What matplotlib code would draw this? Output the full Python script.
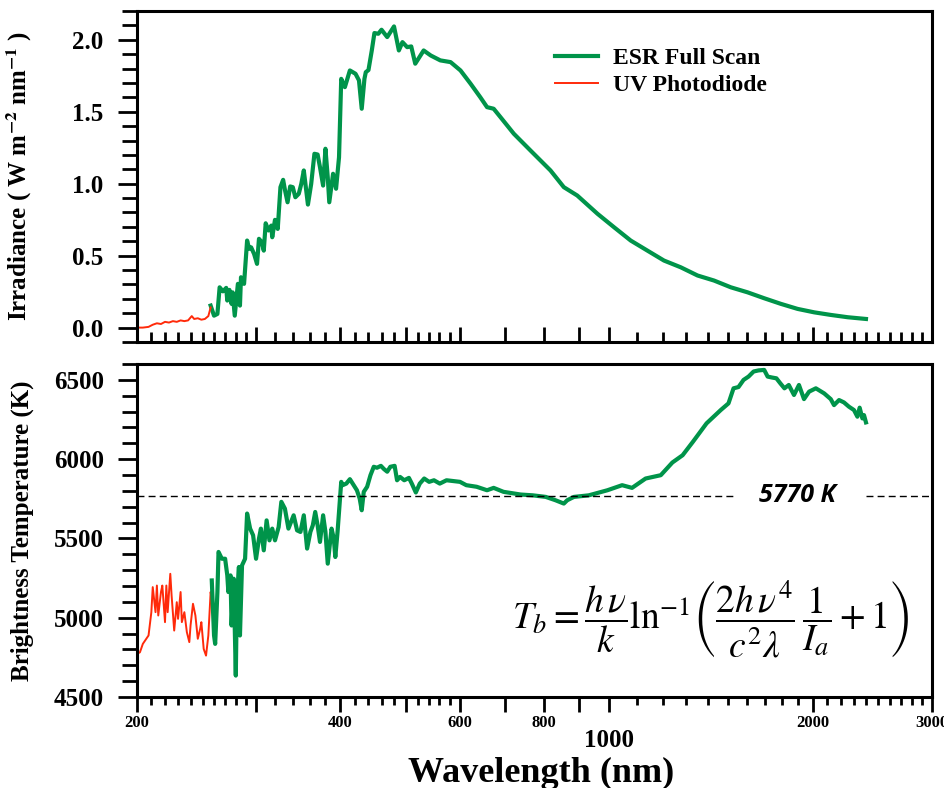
import matplotlib
matplotlib.use("Agg")
import matplotlib.pyplot as plt
from matplotlib.ticker import FixedLocator, FixedFormatter, NullFormatter, MultipleLocator
from matplotlib.transforms import blended_transform_factory

plt.rcParams['font.family'] = 'Liberation Serif'
plt.rcParams['mathtext.fontset'] = 'stix'

GREEN = '#00944a'
RED = '#ff2a0a'

# UV photodiode - irradiance (W m-2 nm-1)
uv_wl_irr = [200, 204, 208, 211, 214, 217, 220, 223, 226, 229, 232, 235, 238, 241,
             243, 246, 249, 252, 255, 257]
uv_irr = [0.0, 0.0, 0.005, 0.02, 0.03, 0.025, 0.04, 0.035, 0.045, 0.04, 0.05, 0.045,
          0.05, 0.08, 0.06, 0.065, 0.055, 0.06, 0.08, 0.14]

# UV photodiode - brightness temperature (K)
uv_wl_tb = [200, 202, 204, 208, 210, 211, 213, 214, 215, 217, 218, 220, 221, 222, 224,
            225, 227, 229, 230, 232, 233, 235, 237, 239, 240, 242, 244, 246, 248, 249,
            251, 253, 255, 257, 258, 260]
uv_tb = [4772, 4782, 4835, 4888, 5035, 5193, 5035, 5203, 5014, 5162, 5203, 4972, 5203,
         5035, 5277, 5140, 4919, 5098, 4993, 5162, 4972, 5035, 4909, 4846, 4951, 5088,
         5014, 4867, 4930, 4972, 4803, 4761, 4888, 5162, 5119, 5077]

# ESR full scan - irradiance
esr_wl_irr = [257, 260, 263, 265, 268, 271, 272, 274, 276, 277, 279, 282, 284, 285, 288,
              291, 293, 295, 298, 301, 303, 306, 308, 310, 313, 316, 317, 320, 323, 326,
              329, 331, 334, 337, 340, 343, 347, 350, 353, 358, 362, 366, 370, 373, 377,
              380, 383, 385, 390, 394, 398, 401, 406, 413, 421, 426, 430, 434, 436, 440,
              445, 449, 455, 460, 469, 480, 488, 494, 502, 509, 516, 531, 544, 562, 582,
              602, 623, 644, 659, 674, 690, 722, 764, 818, 856, 896, 960, 1016, 1075,
              1138, 1204, 1275, 1350, 1428, 1512, 1601, 1694, 1793, 1898, 2009, 2126,
              2252, 2396]
esr_irr = [0.153, 0.083, 0.095, 0.280, 0.252, 0.276, 0.188, 0.262, 0.165, 0.245, 0.083,
           0.304, 0.153, 0.350, 0.304, 0.605, 0.547, 0.558, 0.512, 0.443, 0.617, 0.593,
           0.535, 0.725, 0.675, 0.709, 0.628, 0.749, 0.686, 0.976, 1.027, 0.958, 0.871,
           0.981, 0.976, 0.906, 0.930, 0.999, 1.092, 0.855, 0.999, 1.208, 1.203, 1.115,
           0.987, 1.243, 1.045, 0.871, 1.069, 0.965, 1.184, 1.729, 1.671, 1.787, 1.764,
           1.718, 1.521, 1.729, 1.775, 1.790, 1.926, 2.047, 2.042, 2.070, 2.019, 2.093,
           1.926, 1.984, 1.949, 1.954, 1.834, 1.926, 1.891, 1.857, 1.845, 1.787, 1.695,
           1.601, 1.532, 1.521, 1.462, 1.347, 1.231, 1.092, 0.976, 0.918, 0.791, 0.697,
           0.605, 0.535, 0.466, 0.419, 0.362, 0.327, 0.280, 0.245, 0.204, 0.165, 0.130,
           0.106, 0.088, 0.072, 0.060]

# ESR full scan - brightness temperature
esr_wl_tb = [258, 260, 261, 263, 264, 267, 270, 272, 273, 275, 276, 278, 280, 281, 283,
             284, 286, 289, 291, 294, 297, 300, 303, 305, 308, 311, 314, 317, 320, 324,
             327, 331, 335, 341, 345, 349, 353, 357, 361, 364, 367, 370, 373, 377, 380,
             383, 388, 391, 393, 396, 401, 403, 408, 413, 417, 423, 427, 430, 433, 438,
             443, 448, 453, 459, 464, 469, 474, 481, 485, 490, 497, 505, 510, 517, 524,
             532, 541, 550, 561, 574, 601, 614, 636, 659, 674, 697, 739, 770, 805, 832,
             856, 866, 886, 932, 993, 1044, 1080, 1131, 1191, 1239, 1283, 1329, 1392,
             1461, 1500, 1526, 1552, 1579, 1606, 1634, 1662, 1694, 1714, 1740, 1766,
             1790, 1815, 1842, 1875, 1907, 1940, 1974, 2020, 2078, 2125, 2149, 2186,
             2223, 2261, 2300, 2327, 2345, 2367, 2380, 2396]
esr_tb = [5235, 4888, 4835, 5162, 5415, 5372, 5372, 5267, 5162, 5267, 4951, 5246, 4635,
          5119, 5320, 4888, 5330, 5372, 5657, 5562, 5520, 5372, 5499, 5562, 5425, 5614,
          5488, 5562, 5488, 5572, 5731, 5688, 5562, 5646, 5551, 5541, 5646, 5436, 5541,
          5583, 5667, 5583, 5478, 5646, 5541, 5341, 5562, 5499, 5383, 5541, 5857, 5836,
          5846, 5874, 5846, 5804, 5752, 5678, 5794, 5826, 5899, 5952, 5946, 5958, 5937,
          5921, 5952, 5958, 5867, 5888, 5867, 5882, 5846, 5790, 5846, 5878, 5857, 5867,
          5846, 5867, 5857, 5836, 5826, 5804, 5819, 5794, 5777, 5772, 5762, 5741, 5720,
          5741, 5762, 5772, 5804, 5836, 5819, 5878, 5899, 5979, 6025, 6110, 6226, 6310,
          6352, 6447, 6455, 6500, 6521, 6553, 6560, 6563, 6521, 6515, 6510, 6478, 6447,
          6468, 6405, 6468, 6379, 6426, 6447, 6415, 6379, 6341, 6373, 6358, 6331, 6310,
          6268, 6325, 6257, 6278, 6232]

# reference solar temperature and the span of its dashed line (broken around the label)
T_SUN = 5770
sun_line_left = [200, 1530]
sun_line_right = [2400, 3000]

major_ticks = [200, 300, 400, 500, 600, 700, 800, 900, 1000, 2000, 3000]
major_labels = ['200', '', '400', '', '600', '', '800', '', '', '2000', '3000']
minor_ticks = ([210, 220, 230, 240, 250, 260, 270, 280, 290]
               + [320, 340, 360, 380, 420, 440, 460, 480, 520, 540, 560, 580]
               + [1100, 1200, 1300, 1400, 1500, 1600, 1700, 1800, 1900]
               + [2100, 2200, 2300, 2400, 2500, 2600, 2700, 2800, 2900])

fig = plt.figure(figsize=(9.45, 7.88), dpi=100)
ax1 = fig.add_axes([0.145, 0.566, 0.8412, 0.420])
ax2 = fig.add_axes([0.145, 0.1155, 0.8412, 0.4225])

# top panel: irradiance
ax1.plot(esr_wl_irr, esr_irr, color=GREEN, lw=3.0, label='ESR Full Scan')
ax1.plot(uv_wl_irr, uv_irr, color=RED, lw=1.4, label='UV Photodiode')
ax1.set_ylim(-0.1, 2.2)
ax1.yaxis.set_major_locator(MultipleLocator(0.5))
ax1.yaxis.set_minor_locator(MultipleLocator(0.1))
ax1.set_ylabel(r'Irradiance ( W m$^{\mathbf{-2}}$ nm$^{\mathbf{-1}}$ )', fontsize=18,
               fontweight='bold')
ax1.legend(loc='upper left', bbox_to_anchor=(0.526, 0.89), frameon=False,
           borderpad=0, borderaxespad=0, handlelength=1.8, handletextpad=0.65,
           labelspacing=0.25, prop={'family': 'Liberation Serif', 'weight': 'bold',
                                    'size': 17})

# bottom panel: brightness temperature
ax2.plot(uv_wl_tb, uv_tb, color=RED, lw=1.4)
ax2.plot(esr_wl_tb, esr_tb, color=GREEN, lw=3.0)
ax2.plot(sun_line_left, [T_SUN, T_SUN], color='black', lw=1.0, ls=(0, (5, 3)))
ax2.plot(sun_line_right, [T_SUN, T_SUN], color='black', lw=1.0, ls=(0, (5, 3)))
ax2.text(1900, T_SUN, '5770 K', ha='center', va='center', fontsize=18,
         family='Open Sans', fontweight='bold', style='italic')
ax2.set_ylim(4500, 6600)
ax2.yaxis.set_major_locator(MultipleLocator(500))
ax2.yaxis.set_minor_locator(MultipleLocator(100))
ax2.set_ylabel('Brightness Temperature (K)', fontsize=18, fontweight='bold')

eq = (r'$T_b = \dfrac{h\,\nu}{k}\ln^{-1}\!\left(\dfrac{2h\,\nu^4}{c^2\lambda}'
      r'\,\dfrac{1}{I_a} + 1\right)$')
ax2.text(0.722, 0.234, eq, transform=ax2.transAxes, ha='center', va='center',
         fontsize=27)

for ax in (ax1, ax2):
    ax.set_xscale('log')
    ax.set_xlim(200, 3000)
    ax.xaxis.set_major_locator(FixedLocator(major_ticks))
    ax.xaxis.set_minor_locator(FixedLocator(minor_ticks))
    ax.xaxis.set_minor_formatter(NullFormatter())
    for s in ax.spines.values():
        s.set_linewidth(2.2)
    ax.tick_params(axis='y', which='major', direction='out', length=14, width=2,
                   pad=10, labelsize=18)
    ax.tick_params(axis='y', which='minor', direction='out', length=11, width=2)
    ax.yaxis.set_label_coords(-0.13, 0.5)

ax1.xaxis.set_major_formatter(NullFormatter())
ax1.tick_params(axis='x', which='major', direction='in', length=11, width=2)
ax1.tick_params(axis='x', which='minor', direction='in', length=7, width=2)

ax2.xaxis.set_major_formatter(FixedFormatter(major_labels))
ax2.tick_params(axis='x', which='major', direction='out', length=11, width=2,
                pad=2, labelsize=12)
ax2.tick_params(axis='x', which='minor', direction='out', length=6, width=2)

# bold tick labels
for ax in (ax1, ax2):
    for lab in ax.get_xticklabels() + ax.get_yticklabels():
        lab.set_fontweight('bold')

trans = blended_transform_factory(ax2.transData, ax2.transAxes)
ax2.text(1000, -0.132, '1000', transform=trans, ha='center', va='center',
         fontsize=18, fontweight='bold')
ax2.set_xlabel('Wavelength (nm)', fontsize=26, fontweight='bold')
ax2.xaxis.set_label_coords(0.508, -0.181)

fig.savefig('out.png', dpi=100)
